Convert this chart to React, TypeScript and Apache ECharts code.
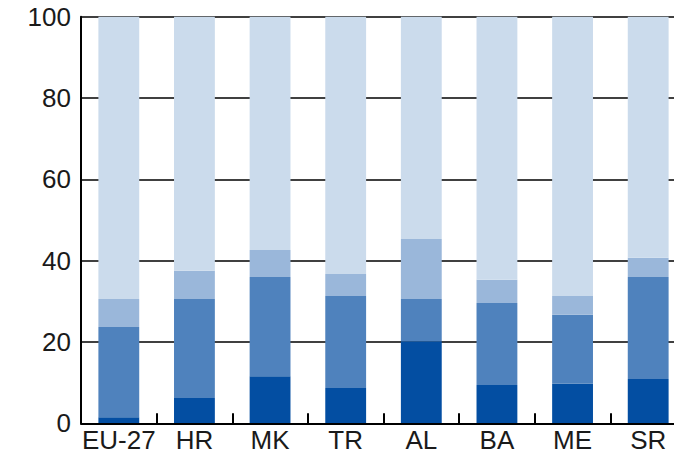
import React, { useEffect, useRef } from "react";
import * as echarts from "echarts";

const categories = ["EU-27", "HR", "MK", "TR", "AL", "BA", "ME", "SR"];
const seriesA = [1.5, 6.2, 11.6, 8.7, 20.2, 9.4, 9.7, 10.9];
const seriesB = [22.2, 24.4, 24.4, 22.6, 10.4, 20.2, 17.0, 25.1];
const seriesC = [6.9, 6.9, 6.6, 5.4, 14.7, 5.7, 4.6, 4.7];
const seriesD = [69.4, 62.5, 57.4, 63.3, 54.7, 64.7, 68.7, 59.3];
const colors = ["#034ea2", "#4f82bd", "#9ab7da", "#cbdbec"];
const yTicks = [0, 20, 40, 60, 80, 100];

export default function App() {
  const ref = useRef<HTMLDivElement>(null);
  useEffect(() => {
    if (!ref.current) return;
    const chart = echarts.init(ref.current, null, { renderer: "svg" });
    const font = "'Liberation Sans', Arial, sans-serif";
    const mk = (name: string, data: number[], i: number) => ({
      name,
      type: "bar",
      stack: "total",
      data,
      barWidth: "54%",
      itemStyle: { color: colors[i] },
      z: 3,
    });
    chart.setOption({
      animation: false,
      grid: { left: 81, right: 0, top: 16.7, bottom: 31.7 },
      xAxis: {
        type: "category",
        data: categories,
        boundaryGap: true,
        axisLine: { show: true, lineStyle: { color: "#000", width: 2 } },
        axisTick: { show: true, inside: true, length: 10, alignWithLabel: false, lineStyle: { color: "#000", width: 2 } },
        axisLabel: { color: "#1a1a1a", fontSize: 26, fontFamily: font, margin: 4, interval: 0 },
        z: 5,
      },
      yAxis: {
        type: "value",
        min: 0,
        max: 100,
        interval: 20,
        axisLine: { show: true, lineStyle: { color: "#000", width: 2 } },
        axisTick: { show: false },
        axisLabel: {
          color: "#1a1a1a",
          fontSize: 26,
          fontFamily: font,
          margin: 10,
          formatter: (v: number) => (yTicks.includes(v) ? String(v) : ""),
        },
        splitLine: { show: true, lineStyle: { color: "#000", width: 1.5 } },
      },
      series: [
        mk("a", seriesA, 0),
        mk("b", seriesB, 1),
        mk("c", seriesC, 2),
        mk("d", seriesD, 3),
      ],
    });
    return () => chart.dispose();
  }, []);
  return (
    <div
      ref={ref}
      style={{ position: "fixed", left: 0, top: 0, width: 686, height: 455, background: "#fff" }}
    />
  );
}
